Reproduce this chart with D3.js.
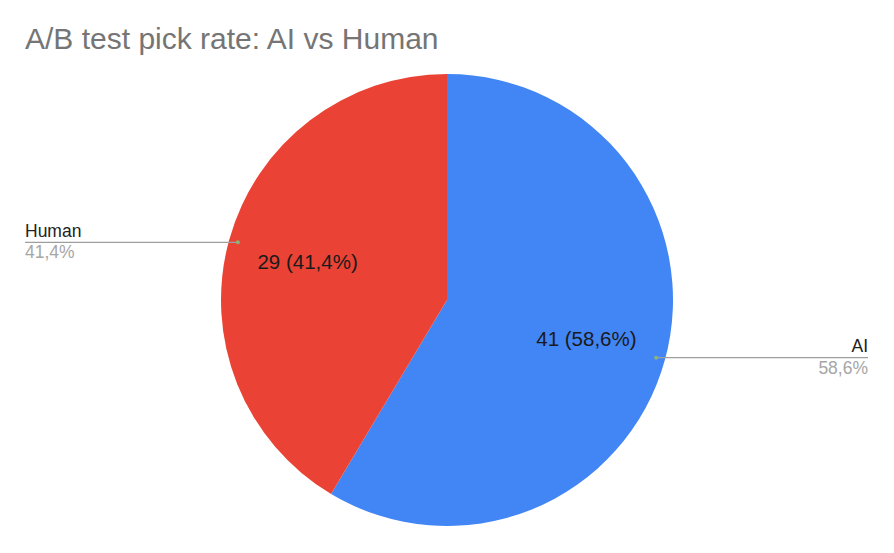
<!DOCTYPE html>
<html><head><meta charset="utf-8">
<script src="https://cdn.jsdelivr.net/npm/d3@7"></script>
<style>body{margin:0;background:#fff}svg{display:block;font-family:Arial,"Liberation Sans",sans-serif}</style>
</head><body><svg id="c" width="894" height="553"></svg>
<script>
const categories = ["AI", "Human"];
const values = [41, 29];
const colors = ["#4285F4", "#EA4335"];
const title = "A/B test pick rate: AI vs Human";

const svg = d3.select("#c");
const W = 894, H = 553;
svg.append("rect").attr("width", W).attr("height", H).attr("fill", "#fff");
svg.append("text").attr("x", 25).attr("y", 49).attr("font-size", 30).attr("fill", "#757575").text(title);

const cx = 447, cy = 300, R = 226;
const total = d3.sum(values);
const data = categories.map((c, i) => ({cat: c, v: values[i], color: colors[i]}));
const pie = d3.pie().value(d => d.v).sort(null);
const arcs = pie(data);
const arc = d3.arc().innerRadius(0).outerRadius(R);
const g = svg.append("g").attr("transform", `translate(${cx},${cy})`);
g.selectAll("path").data(arcs).join("path").attr("d", arc).attr("fill", d => d.data.color);

const fmt = v => (Math.round(v / total * 1000) / 10).toFixed(1).replace(".", ",") + "%";
const inner = d3.arc().innerRadius(R * 0.64).outerRadius(R * 0.64);
g.selectAll("text.in").data(arcs).join("text").attr("class", "in")
  .attr("transform", d => `translate(${inner.centroid(d)})`)
  .attr("text-anchor", "middle").attr("dy", "0.35em").attr("font-size", 20.5).attr("fill", "#1a1a1a")
  .text(d => `${d.data.v} (${fmt(d.data.v)})`);

const dotArc = d3.arc().innerRadius(R * 0.96).outerRadius(R * 0.96);
arcs.forEach(d => {
  const [px, py] = dotArc.centroid(d);
  const right = px > 0;
  const x0 = cx + px, y0 = cy + py;
  const xe = right ? 868 : 25;
  svg.append("line").attr("x1", x0).attr("y1", y0).attr("x2", xe).attr("y2", y0)
    .attr("stroke", "#9e9e9e").attr("stroke-width", 1.3);
  svg.append("circle").attr("cx", x0).attr("cy", y0).attr("r", 2).attr("fill", "#8bb37a");
  svg.append("text").attr("x", xe).attr("y", y0 - 5.5).attr("text-anchor", right ? "end" : "start")
    .attr("font-size", 17.5).attr("fill", "#222").text(d.data.cat);
  svg.append("text").attr("x", xe).attr("y", y0 + 16).attr("text-anchor", right ? "end" : "start")
    .attr("font-size", 17.5).attr("fill", "#a6a6a6").text(fmt(d.data.v));
});
</script></body></html>
